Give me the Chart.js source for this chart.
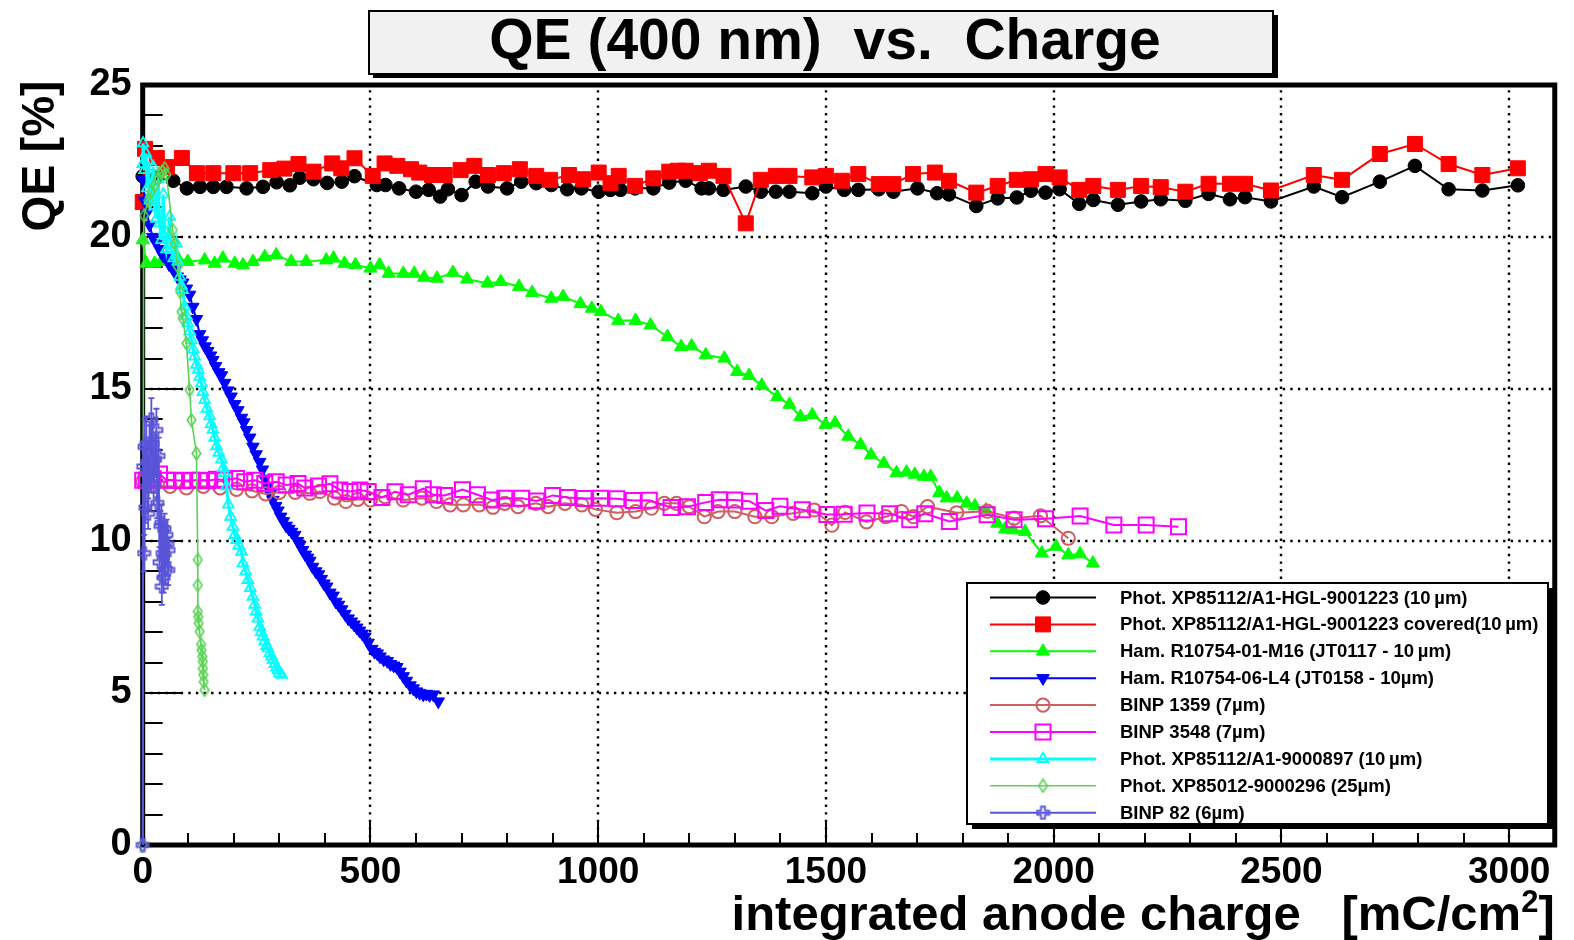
<!DOCTYPE html>
<html>
<head>
<meta charset="utf-8">
<title>QE (400 nm) vs. Charge</title>
<script src="https://cdn.jsdelivr.net/npm/chart.js@4.4.1/dist/chart.umd.min.js"></script>
<style>
  html, body { margin: 0; padding: 0; background: #ffffff; }
  #wrap { width: 1574px; height: 940px; position: relative; }
</style>
</head>
<body>
<div id="wrap"><canvas id="qe" width="1574" height="940"></canvas></div>
<script>
// ---- measured quantum efficiency [%] vs integrated anode charge [mC/cm^2] ----

const seriesLabels = [
  'Phot. XP85112/A1-HGL-9001223 (10\u2009\u00b5m)',
  'Phot. XP85112/A1-HGL-9001223 covered(10\u2009\u00b5m)',
  'Ham. R10754-01-M16 (JT0117 - 10\u2009\u00b5m)',
  'Ham. R10754-06-L4 (JT0158 - 10\u00b5m)',
  'BINP 1359 (7\u00b5m)',
  'BINP 3548 (7\u00b5m)',
  'Phot. XP85112/A1-9000897 (10\u2009\u00b5m)',
  'Phot. XP85012-9000296 (25\u00b5m)',
  'BINP 82 (6\u00b5m)'
];

const xTickValues = [0, 500, 1000, 1500, 2000, 2500, 3000];
const yTickValues = [0, 5, 10, 15, 20, 25];

const phot9001223 = [
  [0,22.0],[30,21.95],[67,21.85],[97,21.6],[126,21.65],[155,21.65],[184,21.65],[228,21.6],[264,21.65],
  [294,21.8],[323,21.7],[345,21.95],[375,21.9],[405,21.78],[437,21.82],[465,22.0],[514,21.71],[533,21.71],
  [563,21.6],[600,21.49],[628,21.55],[653,21.33],[670,21.57],[700,21.38],[731,21.82],[758,21.66],[800,21.6],
  [831,21.82],[864,21.77],[897,21.71],[932,21.57],[963,21.6],[1001,21.49],[1027,21.55],[1049,21.55],
  [1081,21.6],[1121,21.6],[1156,21.79],[1192,21.85],[1227,21.6],[1243,21.6],[1275,21.55],[1324,21.66],
  [1357,21.49],[1390,21.49],[1420,21.49],[1470,21.44],[1500,21.66],[1540,21.55],[1571,21.55],[1616,21.57],
  [1648,21.49],[1701,21.6],[1744,21.44],[1770,21.4],[1830,21.02],[1877,21.27],[1919,21.3],[1950,21.52],
  [1982,21.46],[2013,21.57],[2056,21.09],[2087,21.22],[2141,21.06],[2192,21.17],[2235,21.24],[2289,21.19],
  [2340,21.42],[2387,21.24],[2420,21.31],[2477,21.17],[2571,21.66],[2633,21.31],[2716,21.82],[2793,22.34],
  [2867,21.57],[2941,21.53],[3019,21.7]
];

const phot9001223Covered = [
  [0,21.15],[5,22.9],[31,22.6],[53,22.3],[86,22.6],[119,22.1],[155,22.1],[199,22.1],[236,22.1],[280,22.2],
  [311,22.25],[342,22.4],[375,22.15],[416,22.42],[436,22.26],[465,22.59],[505,22.01],[531,22.42],[559,22.34],
  [589,22.23],[607,22.12],[635,22.04],[663,22.04],[698,22.2],[728,22.34],[758,22.04],[793,22.1],[828,22.23],
  [864,22.01],[894,21.88],[936,22.04],[967,21.9],[1001,22.12],[1027,21.77],[1045,22.01],[1081,21.68],
  [1121,21.93],[1156,22.15],[1175,22.18],[1192,22.18],[1223,22.1],[1243,22.18],[1275,22.01],[1324,20.45],
  [1357,21.88],[1390,22.01],[1420,22.01],[1470,21.96],[1500,22.01],[1535,21.85],[1571,22.07],[1616,21.74],
  [1648,21.74],[1691,22.07],[1739,22.12],[1770,21.85],[1830,21.46],[1877,21.68],[1919,21.88],[1950,21.9],
  [1982,22.07],[2013,21.96],[2056,21.55],[2087,21.68],[2141,21.55],[2192,21.68],[2235,21.64],[2289,21.49],
  [2340,21.75],[2387,21.75],[2420,21.75],[2477,21.53],[2571,22.04],[2633,21.88],[2716,22.73],[2793,23.06],
  [2867,22.4],[2941,22.04],[3019,22.26]
];

const hamM16 = [
  [0,19.9],[8,19.13],[26,19.13],[41,19.19],[77,19.3],[99,19.19],[136,19.24],[158,19.13],[176,19.3],
  [202,19.13],[220,19.08],[242,19.19],[268,19.35],[293,19.41],[326,19.19],[359,19.19],[403,19.24],
  [419,19.3],[443,19.13],[467,19.08],[500,18.97],[520,19.08],[540,18.8],[572,18.8],[596,18.8],[618,18.67],
  [646,18.64],[681,18.83],[712,18.61],[757,18.48],[786,18.53],[826,18.37],[855,18.17],[897,17.98],
  [923,18.04],[961,17.8],[986,17.65],[1006,17.54],[1044,17.25],[1082,17.25],[1115,17.1],[1152,16.72],
  [1182,16.39],[1205,16.41],[1236,16.12],[1277,16.01],[1305,15.57],[1331,15.44],[1359,15.12],[1393,14.74],
  [1420,14.49],[1444,14.09],[1470,14.15],[1499,13.83],[1520,13.88],[1549,13.44],[1576,13.17],[1599,12.83],
  [1627,12.55],[1655,12.24],[1677,12.26],[1695,12.19],[1715,12.12],[1730,12.12],[1749,11.59],[1765,11.41],
  [1788,11.41],[1809,11.24],[1827,11.15],[1851,11.02],[1876,10.58],[1893,10.39],[1911,10.36],[1937,10.31],
  [1974,9.6],[2005,9.82],[2032,9.54],[2058,9.57],[2086,9.27]
];

const hamL4 = [
  [0,21.9],[4,21.2],[9,20.8],[15,20.4],[22,20.0],[30,19.8],[37,19.6],[44,19.4],[52,19.3],[58,19.1],
  [64,19.0],[70,18.9],[76,18.7],[82,18.6],[88,18.5],[96,18.3],[103,18.1],[110,17.7],[118,17.3],[125,16.8],
  [131,16.6],[137,16.4],[143,16.25],[149,16.1],[154,15.95],[160,15.75],[167,15.55],[173,15.45],[180,15.2],
  [187,14.95],[194,14.75],[202,14.5],[209,14.3],[217,14.05],[222,13.9],[228,13.65],[235,13.4],[242,13.1],
  [249,12.85],[257,12.6],[263,12.35],[268,12.05],[274,11.8],[280,11.55],[286,11.35],[292,11.15],[297,11.0],
  [303,10.8],[309,10.65],[315,10.5],[321,10.4],[327,10.3],[334,10.2],[340,10.0],[345,9.87],[351,9.7],
  [357,9.55],[362,9.45],[367,9.35],[373,9.15],[380,9.0],[386,8.9],[392,8.75],[398,8.6],[404,8.5],[411,8.3],
  [418,8.2],[424,8.0],[430,7.9],[437,7.75],[444,7.6],[451,7.45],[458,7.35],[464,7.25],[470,7.15],[476,7.05],
  [482,6.95],[488,6.85],[495,6.65],[503,6.45],[509,6.35],[515,6.3],[521,6.2],[529,6.1],[537,6.05],[544,5.95],
  [551,5.9],[558,5.85],[565,5.7],[572,5.55],[579,5.4],[587,5.25],[594,5.15],[601,5.05],[608,5.0],[616,4.95],
  [623,4.97],[630,4.93],[638,4.95],[649,4.72]
];

const binp1359 = [
  [0,11.95],[23,11.8],[60,11.8],[96,11.75],[133,11.8],[170,11.75],[206,11.7],[240,11.65],[270,11.55],
  [300,11.6],[335,11.6],[367,11.57],[389,11.63],[421,11.41],[446,11.3],[472,11.37],[500,11.35],[532,11.46],
  [572,11.35],[613,11.41],[645,11.3],[675,11.19],[704,11.19],[739,11.19],[769,11.11],[795,11.24],[824,11.13],
  [863,11.24],[890,11.13],[927,11.24],[964,11.19],[994,11.04],[1041,10.93],[1082,10.97],[1117,11.08],
  [1145,11.24],[1172,11.24],[1200,11.13],[1233,10.8],[1263,10.97],[1300,10.97],[1344,10.8],[1381,10.8],
  [1428,10.91],[1474,11.02],[1513,10.52],[1542,10.94],[1589,10.63],[1631,10.8],[1666,10.97],[1692,10.8],
  [1723,11.13],[1787,10.93],[1854,10.98],[1913,10.75],[1971,10.83],[2032,10.09]
];

const binp3548 = [
  [0,12.0],[8,12.0],[23,12.06],[37,12.2],[52,12.0],[70,12.0],[88,11.98],[107,12.0],[125,12.0],[143,11.98],
  [162,12.03],[180,12.0],[206,12.06],[224,11.95],[246,12.0],[268,11.89],[293,11.95],[315,11.84],[341,11.89],
  [356,11.74],[386,11.81],[411,11.88],[433,11.68],[455,11.63],[477,11.68],[495,11.63],[525,11.43],[554,11.62],
  [583,11.52],[616,11.72],[638,11.52],[663,11.5],[702,11.69],[735,11.52],[766,11.35],[795,11.41],[832,11.41],
  [865,11.32],[900,11.5],[933,11.43],[969,11.4],[1005,11.41],[1041,11.39],[1077,11.33],[1112,11.34],
  [1160,11.1],[1196,11.13],[1236,11.27],[1266,11.36],[1300,11.35],[1332,11.31],[1368,11.0],[1399,11.14],
  [1448,11.03],[1502,10.87],[1540,10.88],[1590,10.92],[1640,10.9],[1684,10.7],[1717,10.9],[1771,10.64],
  [1854,10.86],[1913,10.7],[1982,10.73],[2058,10.82],[2132,10.53],[2203,10.53],[2274,10.47]
];

const phot9000897 = [
  [0,22.4],[1,23.08],[4,22.2],[7,22.75],[10,21.6],[13,22.5],[16,21.2],[19,21.43],[23,22.31],[26,21.0],
  [30,20.6],[34,21.9],[37,20.45],[41,19.9],[45,21.4],[48,20.23],[52,19.6],[55,19.9],[59,20.67],[63,19.57],
  [68,19.3],[74,19.79],[77,19.19],[81,18.69],[85,18.4],[88,18.26],[92,17.71],[96,17.4],[99,17.16],[103,16.9],
  [107,16.61],[111,16.3],[114,16.07],[118,15.8],[122,15.63],[125,15.4],[129,15.19],[132,14.9],[136,14.64],
  [141,14.35],[147,14.1],[150,13.85],[154,13.66],[158,13.4],[162,13.12],[167,12.9],[173,12.68],[177,12.4],
  [180,12.24],[184,11.8],[188,11.2],[193,10.8],[198,10.47],[202,10.2],[206,10.03],[211,9.85],[217,9.65],
  [220,9.27],[226,9.0],[231,8.72],[236,8.45],[242,8.17],[246,7.9],[249,7.68],[253,7.45],[257,7.18],
  [260,7.0],[264,6.86],[268,6.7],[272,6.55],[275,6.47],[279,6.3],[283,6.2],[286,6.09],[290,5.95],
  [294,5.85],[297,5.75],[300,5.65],[305,5.6]
];

const phot9000296 = [
  [0,0],[2,19.9],[3,20.7],[12,21.2],[19,21.5],[26,21.7],[33,21.9],[37,22.1],[44,22.15],[48,22.26],
  [52,22.05],[66,20.23],[70,19.79],[77,19.03],[82,18.2],[85,17.54],[88,17.32],[96,16.5],[103,14.97],
  [107,13.98],[118,12.88],[121,9.38],[121,8.55],[121,7.68],[122,7.5],[123,7.3],[125,7.02],[128,6.6],
  [129,6.41],[131,6.2],[132,6.03],[132,5.8],[133,5.6],[134,5.37],[136,5.1]
];

const binp82 = [
  [0,0],[1,12.45],[3,9.6],[4,13.1],[6,11.1],[8,13.2],[10,12.6],[12,10.9],[15,13.0],[17,12.2],[19,14.0],
  [22,13.2],[24,11.8],[27,12.7],[30,13.65],[32,11.25],[35,12.8],[37,9.3],[39,10.5],[41,10.6],[42,8.5],
  [44,9.6],[46,8.8],[48,10.4],[50,9.1],[52,10.2],[54,9.9],[56,9.05],[57,9.7]
];
// vertical uncertainties of the BINP 82 points
const binp82Err = [
  0,0.6,0.6,0.9,0.5,0.9,0.7,0.5,0.8,0.6,0.7,
  0.8,0.6,0.6,0.7,0.5,0.6,0.5,0.5,0.6,0.6,
  0.5,0.5,0.5,0.5,0.5,0.6,0.5,0.4
];

const seriesData = [phot9001223, phot9001223Covered, hamM16, hamL4, binp1359, binp3548, phot9000897, phot9000296, binp82];

// ---- drawing setup ----
const FONT = '"Liberation Sans", Arial, Helvetica, sans-serif';

function markerCanvas(w, h, color, lw, trace) {
  const c = document.createElement('canvas');
  c.width = w; c.height = h;
  const g = c.getContext('2d');
  g.strokeStyle = color; g.lineWidth = lw; g.lineJoin = 'miter';
  g.beginPath(); trace(g); g.stroke();
  return c;
}

const openDiamond = markerCanvas(11, 15, '#59d454', 1.6, g => {
  g.moveTo(5.5, 1.2); g.lineTo(9.8, 7.5); g.lineTo(5.5, 13.8); g.lineTo(1.2, 7.5); g.closePath();
});
const openCross = markerCanvas(15, 15, '#5954d8', 1.8, g => {
  const a = 1.5, b = 5.5, d = 9.5, e = 13.5;
  g.moveTo(b, a); g.lineTo(d, a); g.lineTo(d, b); g.lineTo(e, b); g.lineTo(e, d); g.lineTo(d, d);
  g.lineTo(d, e); g.lineTo(b, e); g.lineTo(b, d); g.lineTo(a, d); g.lineTo(a, b); g.lineTo(b, b); g.closePath();
});

const seriesStyles = [
  { color: '#000000', point: 'circle',   r: 6.8,  filled: true,  lw: 2,   pw: 1 },
  { color: '#ff0000', point: 'rect',     r: 10.6, filled: true,  lw: 2,   pw: 1 },
  { color: '#00ff00', point: 'triangle', r: 7.6,  filled: true,  lw: 2,   pw: 1 },
  { color: '#0000ff', point: 'triangle', r: 7.2,  filled: true,  lw: 2,   pw: 1, rot: 180 },
  { color: '#cf5e61', point: 'circle',   r: 6.6,  filled: false, lw: 2,   pw: 2 },
  { color: '#ff00ff', point: 'rect',     r: 10.6, filled: false, lw: 2,   pw: 2 },
  { color: '#00ffff', point: 'triangle', r: 6.2,  filled: false, lw: 3,   pw: 1.8 },
  { color: '#59d454', point: openDiamond, r: 6,   filled: false, lw: 1.6, pw: 1.6 },
  { color: '#5954d8', point: openCross,   r: 6,   filled: false, lw: 2,   pw: 1.8 }
];

const datasets = seriesData.map((data, i) => {
  const s = seriesStyles[i];
  return {
    label: seriesLabels[i],
    data: data,
    showLine: true,
    fill: false,
    tension: 0,
    clip: false,
    order: seriesData.length - i,
    borderColor: s.color,
    borderWidth: s.lw,
    pointStyle: s.point,
    pointRadius: s.r,
    pointRotation: s.rot || 0,
    pointBorderColor: s.color,
    pointBorderWidth: s.pw,
    pointBackgroundColor: s.filled ? s.color : 'rgba(0,0,0,0)'
  };
});

// dotted grid, inner tick marks and the heavy frame, drawn under the data
const framePlugin = {
  id: 'frame',
  beforeDatasetsDraw(chart) {
    const { ctx, chartArea: a, scales: { x, y } } = chart;
    ctx.save();
    // grid
    ctx.strokeStyle = '#000';
    ctx.lineWidth = 2.4;
    ctx.setLineDash([2.4, 5.2]);
    xTickValues.forEach(v => {
      if (v <= x.min || v >= x.max) return;
      const px = Math.round(x.getPixelForValue(v));
      ctx.beginPath(); ctx.moveTo(px, a.bottom); ctx.lineTo(px, a.top); ctx.stroke();
    });
    yTickValues.forEach(v => {
      if (v <= y.min || v >= y.max) return;
      const py = Math.round(y.getPixelForValue(v));
      ctx.beginPath(); ctx.moveTo(a.left, py); ctx.lineTo(a.right, py); ctx.stroke();
    });
    ctx.setLineDash([]);
    // tick marks (inside the frame, bottom and left)
    ctx.lineWidth = 2;
    for (let v = x.min; v <= x.max; v += 100) {
      const px = Math.round(x.getPixelForValue(v));
      const len = (v % 500 === 0) ? 24 : 12;
      ctx.beginPath(); ctx.moveTo(px, a.bottom); ctx.lineTo(px, a.bottom - len); ctx.stroke();
    }
    for (let v = y.min; v <= y.max; v += 1) {
      const py = Math.round(y.getPixelForValue(v));
      const len = (v % 5 === 0) ? 40 : 20;
      ctx.beginPath(); ctx.moveTo(a.left, py); ctx.lineTo(a.left + len, py); ctx.stroke();
    }
    // frame
    ctx.lineWidth = 5;
    ctx.strokeRect(a.left, a.top, a.right - a.left, a.bottom - a.top);
    ctx.restore();
  }
};

// vertical error bars for the BINP 82 points
const errorBarPlugin = {
  id: 'errorBars',
  afterDatasetsDraw(chart) {
    const { ctx, scales: { x, y } } = chart;
    ctx.save();
    ctx.strokeStyle = '#5954d8';
    ctx.lineWidth = 1.8;
    binp82.forEach((p, i) => {
      const e = binp82Err[i];
      if (!e) return;
      const px = x.getPixelForValue(p[0]);
      const y1 = y.getPixelForValue(p[1] - e), y2 = y.getPixelForValue(p[1] + e);
      ctx.beginPath();
      ctx.moveTo(px, y1); ctx.lineTo(px, y2);
      ctx.moveTo(px - 3, y1); ctx.lineTo(px + 3, y1);
      ctx.moveTo(px - 3, y2); ctx.lineTo(px + 3, y2);
      ctx.stroke();
    });
    ctx.restore();
  }
};

function drawMarker(ctx, s, cx, cy) {
  ctx.fillStyle = s.filled ? s.color : 'rgba(0,0,0,0)';
  ctx.strokeStyle = s.color;
  ctx.lineWidth = s.pw;
  Chart.helpers.drawPoint(ctx, { pointStyle: s.point, radius: s.r, borderWidth: s.pw, rotation: s.rot || 0 }, cx, cy);
}

// title box, axis titles and the legend panel
const decorPlugin = {
  id: 'decor',
  afterDraw(chart) {
    const ctx = chart.ctx;
    ctx.save();

    // title pave with shadow
    ctx.fillStyle = '#000';
    ctx.fillRect(373, 15, 905, 63);
    ctx.fillStyle = '#f1f1f1';
    ctx.fillRect(369, 11, 904, 63);
    ctx.strokeStyle = '#000';
    ctx.lineWidth = 2;
    ctx.strokeRect(369, 11, 904, 63);
    ctx.fillStyle = '#000';
    ctx.font = 'bold 57px ' + FONT;
    ctx.textAlign = 'center';
    ctx.textBaseline = 'alphabetic';
    ctx.fillText('QE (400 nm)  vs.  Charge', 825, 59);

    // y axis title
    ctx.save();
    ctx.translate(54, 156);
    ctx.rotate(-Math.PI / 2);
    ctx.font = 'bold 46px ' + FONT;
    ctx.textAlign = 'center';
    ctx.fillText('QE [%]', 0, 0);
    ctx.restore();

    // x axis title, right aligned to the frame, with superscript
    const right = chart.chartArea.right;
    const base = 930;
    const mainFont = 'bold 49px ' + FONT, supFont = 'bold 31px ' + FONT;
    ctx.textAlign = 'left';
    ctx.font = mainFont;
    const t1 = 'integrated anode charge   [mC/cm', t3 = ']';
    const w1 = ctx.measureText(t1).width, w3 = ctx.measureText(t3).width;
    ctx.font = supFont;
    const w2 = ctx.measureText('2').width;
    let xs = right - (w1 + w2 + w3);
    ctx.font = mainFont; ctx.fillText(t1, xs, base); xs += w1;
    ctx.font = supFont; ctx.fillText('2', xs, base - 18); xs += w2;
    ctx.font = mainFont; ctx.fillText(t3, xs, base);

    // legend panel
    const L = 967, T = 583, R = 1548, B = 824;
    ctx.fillStyle = '#000';
    ctx.fillRect(L + 5, T + 5, R - L, B - T);
    ctx.fillStyle = '#fff';
    ctx.fillRect(L, T, R - L, B - T);
    ctx.strokeStyle = '#000';
    ctx.lineWidth = 2;
    ctx.strokeRect(L, T, R - L, B - T);

    ctx.font = 'bold 18.5px ' + FONT;
    ctx.textBaseline = 'middle';
    ctx.textAlign = 'left';
    seriesLabels.forEach((label, i) => {
      const s = seriesStyles[i];
      const cy = 597.5 + i * 26.9;
      ctx.strokeStyle = s.color;
      ctx.lineWidth = s.lw;
      ctx.beginPath(); ctx.moveTo(990, cy); ctx.lineTo(1096, cy); ctx.stroke();
      drawMarker(ctx, s, 1043, cy);
      ctx.fillStyle = '#000';
      ctx.fillText(label, 1120, cy + 1);
    });
    ctx.restore();
  }
};

new Chart(document.getElementById('qe').getContext('2d'), {
  type: 'line',
  data: { datasets: datasets },
  options: {
    responsive: false,
    animation: false,
    devicePixelRatio: 1,
    events: [],
    layout: { padding: { top: 85, right: 19.25, left: 0, bottom: 0 } },
    plugins: { legend: { display: false }, tooltip: { enabled: false }, title: { display: false } },
    scales: {
      x: {
        type: 'linear', min: 0, max: 3100,
        grid: { display: false, drawTicks: false },
        border: { display: false },
        afterBuildTicks(s) { s.ticks = xTickValues.map(v => ({ value: v })); },
        ticks: {
          autoSkip: false, maxRotation: 0, minRotation: 0,
          padding: 6, color: '#000', font: { family: FONT, size: 37, weight: 'bold' },
          callback: v => String(v)
        },
        afterFit(s) { s.height = 95; }
      },
      y: {
        type: 'linear', min: 0, max: 25,
        grid: { display: false, drawTicks: false },
        border: { display: false },
        afterBuildTicks(s) { s.ticks = yTickValues.map(v => ({ value: v })); },
        ticks: {
          padding: 11, color: '#000', font: { family: FONT, size: 38, weight: 'bold' },
          callback: v => String(v)
        },
        afterFit(s) { s.width = 142.7; }
      }
    }
  },
  plugins: [framePlugin, errorBarPlugin, decorPlugin]
});
</script>
</body>
</html>
